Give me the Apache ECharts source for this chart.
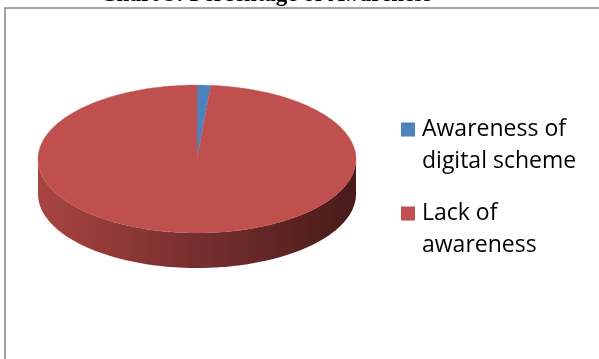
<!DOCTYPE html>
<html>
<head>
<meta charset="utf-8">
<script src="https://cdn.jsdelivr.net/npm/echarts@6/dist/echarts.min.js"></script>
<style>
  html, body { margin: 0; padding: 0; background: #fff; }
  #chart { width: 599px; height: 359px; }
</style>
</head>
<body>
<div id="chart"></div>
<script>
// Survey result: share of respondents aware of the digital scheme
const categories = ['Awareness of digital scheme', 'Lack of awareness'];
const values = [1.4, 98.6];
const legendLines = [['Awareness of', 'digital scheme'], ['Lack of', 'awareness']];
const colors = ['#4F81BD', '#C0504D'];

// Pie geometry (tilted disc)
const PIE = { cx: 197, cy: 159, rx: 159, ry: 74, depth: 35 };

// Cumulative angles (degrees, clockwise from 12 o'clock)
const total = values.reduce((a, b) => a + b, 0);
const slices = [];
let acc = 0;
values.forEach((v) => {
  const start = acc / total * 360;
  acc += v;
  slices.push({ start: start, end: acc / total * 360 });
});

function pt(deg, dy) {
  const r = deg * Math.PI / 180;
  return [PIE.cx + PIE.rx * Math.sin(r), PIE.cy - PIE.ry * Math.cos(r) + (dy || 0)];
}
function arc(a0, a1, dy) {
  const pts = [];
  const n = Math.max(2, Math.ceil(Math.abs(a1 - a0)));
  for (let k = 0; k <= n; k++) pts.push(pt(a0 + (a1 - a0) * k / n, dy));
  return pts;
}

function sideGradient(i) {
  return new echarts.graphic.LinearGradient(0, 0, 1, 0, [
    { offset: 0, color: i === 1 ? '#A84441' : '#3F6797' },
    { offset: 0.5, color: i === 1 ? '#762F2E' : '#2F4E73' },
    { offset: 1, color: i === 1 ? '#481B1A' : '#1F344D' }
  ]);
}

function makeSeries(i) {
  return {
    type: 'custom',
    name: categories[i],
    coordinateSystem: 'none',
    data: [[values[i]]],
    renderItem: function () {
      const s = slices[i];
      const children = [];
      // Front wall: part of the slice arc between 90° and 270°
      const a0 = Math.max(s.start, 90), a1 = Math.min(s.end, 270);
      if (a1 > a0) {
        const top = arc(a0, a1, 0);
        const bottom = arc(a1, a0, PIE.depth);
        children.push({
          type: 'polygon',
          shape: { points: top.concat(bottom) },
          style: { fill: sideGradient(i), stroke: null }
        });
      }
      // Top face
      children.push({
        type: 'polygon',
        shape: { points: [[PIE.cx, PIE.cy]].concat(arc(s.start, s.end, 0)) },
        style: { fill: colors[i], stroke: colors[i], lineWidth: 0.3 }
      });
      return { type: 'group', children: children };
    }
  };
}

// Legend entry: colour key sits beside the first line of a two-line label
function makeLegend(i, top) {
  return {
    data: [categories[i]],
    orient: 'vertical',
    left: 396,
    top: top,
    padding: 0,
    icon: 'none',
    itemWidth: 0,
    itemHeight: 0,
    formatter: function () {
      return '{key|}{gap|}{t|' + legendLines[i][0] + '}\n{ind|}{t|' + legendLines[i][1] + '}';
    },
    textStyle: {
      fontFamily: 'Open Sans',
      fontSize: 23,
      color: '#000',
      rich: {
        key: { width: 14, height: 14, backgroundColor: colors[i], verticalAlign: 'middle' },
        gap: { width: 7 },
        ind: { width: 21 },
        t: { fontFamily: 'Open Sans', fontSize: 23, lineHeight: 32, color: '#000' }
      }
    }
  };
}

const chart = echarts.init(document.getElementById('chart'), null, { renderer: 'canvas' });
chart.setOption({
  animation: false,
  color: colors,
  title: {
    text: 'Chart 3: Percentage of Awareness',
    left: 100,
    top: -16,
    padding: 0,
    textStyle: { fontFamily: 'Liberation Serif', fontWeight: 'bold', fontSize: 23, color: '#000' }
  },
  legend: [makeLegend(0, 118), makeLegend(1, 202)],
  graphic: [{
    type: 'rect',
    shape: { x: 5, y: 8, width: 700, height: 500 },
    style: { fill: 'none', stroke: '#8a8a8a', lineWidth: 1.6 },
    silent: true
  }],
  series: [makeSeries(0), makeSeries(1)]
});
</script>
</body>
</html>
